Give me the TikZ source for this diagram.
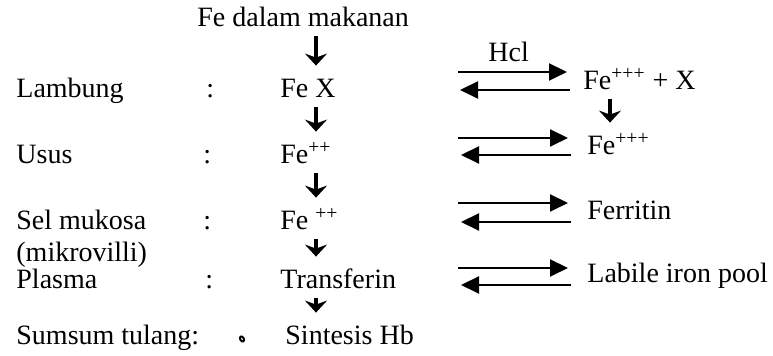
\documentclass[tikz,border=0pt]{standalone}
\usepackage{fontspec}
\setmainfont{Liberation Serif}
\usetikzlibrary{arrows.meta}

\begin{document}
\begin{tikzpicture}[
  x=0.5pt, y=-0.5pt,
  lbl/.style={anchor=base west, inner sep=0, font=\fontsize{14}{16}\selectfont},
  chem/.style={lbl, text height=10pt, text depth=3pt},
  down/.style={line width=2.4pt, shorten <=1.5pt, shorten >=6pt,
    -{Stealth[length=6pt, width=11pt, inset=2pt]}},
  rxn/.style={line width=1pt, -{Triangle[length=9pt, width=8.5pt]}}
]
\useasboundingbox (0,0) rectangle (773,356);

% organ column
\node[lbl] (lambung) at (16, 98)  {Lambung};
\node[lbl] (usus)    at (16, 164) {Usus};
\node[lbl] (sel)     at (16, 230) {Sel mukosa};
\node[lbl] (mikro)   at (16, 262) {(mikrovilli)};
\node[lbl] (plasma)  at (16, 289) {Plasma};
\node[lbl] (sumsum)  at (16, 345) {Sumsum tulang:};

\node[lbl] (c1) at (206, 98)  {:};
\node[lbl] (c2) at (203, 164) {:};
\node[lbl] (c3) at (203, 230) {:};
\node[lbl] (c4) at (205, 289) {:};
\draw[line width=1pt, rotate around={30:(242,339)}] (242,339) ellipse [x radius=1.8, y radius=2.8];

% main path
\node[chem] (food) at (197, 27)  {Fe dalam makanan};
\node[chem] (fex)  at (280, 98)  {Fe X};
\node[chem] (fe2)  at (280, 164) {Fe\textsuperscript{++}};
\node[chem] (fe2m) at (280, 230) {Fe \textsuperscript{++}};
\node[chem] (trf)  at (280, 289) {Transferin};
\node[chem] (hb)   at (285, 345) {Sintesis Hb};

\coordinate (col) at (316, 0);
\draw[down] (food.south -| col) -- (fex.north -| col);
\draw[down] (fex.south -| col)  -- (fe2.north -| col);
\draw[down] (fe2.south -| col)  -- (fe2m.north -| col);
\draw[down] (fe2m.south -| col) -- (trf.north -| col);
\draw[down] (trf.south -| col)  -- (hb.north -| col);

% side equilibria
\node[chem] (hcl)  at (488, 62)  {Hcl};
\node[chem] (fe3x) at (583, 90)  {Fe\textsuperscript{+++} + X};
\node[chem] (fe3)  at (587, 155) {Fe\textsuperscript{+++}};
\node[chem] (ferr) at (587, 220) {Ferritin};
\node[chem] (pool) at (587, 283) {Labile iron pool};

\coordinate (col2) at (610, 0);
\draw[down] (fe3x.south -| col2) -- (fe3.north -| col2);

\coordinate (a1) at (458, 72);  \coordinate (b1) at (460, 90);
\coordinate (a2) at (458, 138); \coordinate (b2) at (461, 155);
\coordinate (a3) at (458, 203); \coordinate (b3) at (461, 222);
\coordinate (a4) at (458, 268); \coordinate (b4) at (461, 285);

\draw[rxn, shorten >=8pt]  (a1) -- (fe3x.west |- a1);
\draw[rxn, shorten <=6.5pt] (fe3x.west |- b1) -- (b1);
\draw[rxn, shorten >=9.5pt] (a2) -- (fe3.west |- a2);
\draw[rxn, shorten <=8pt] (fe3.west |- b2) -- (b2);
\draw[rxn, shorten >=9.5pt] (a3) -- (ferr.west |- a3);
\draw[rxn, shorten <=8pt] (ferr.west |- b3) -- (b3);
\draw[rxn, shorten >=9.5pt] (a4) -- (pool.west |- a4);
\draw[rxn, shorten <=8pt] (pool.west |- b4) -- (b4);
\end{tikzpicture}
\end{document}
